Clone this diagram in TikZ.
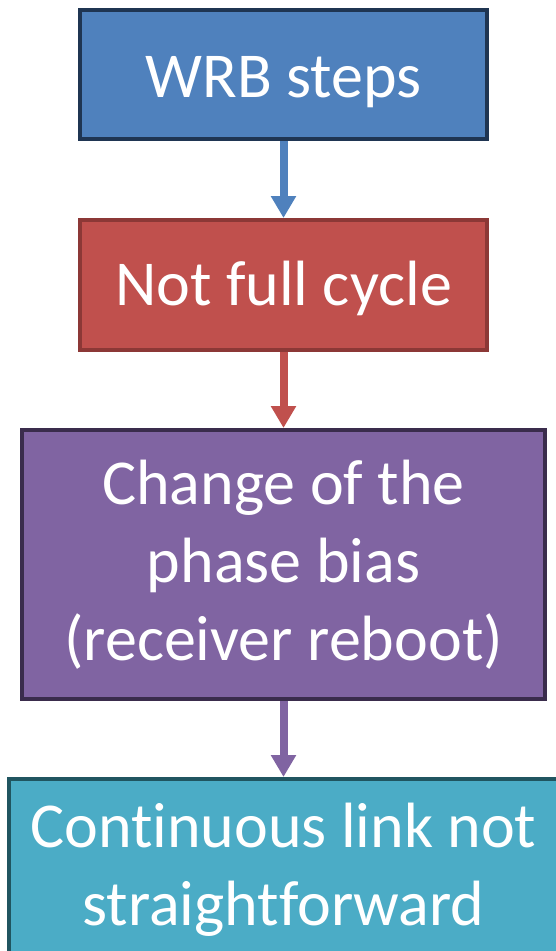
\documentclass[tikz,border=0pt]{standalone}
\usepackage{fontspec}
\setmainfont{Carlito}[Ligatures={NoCommon}]
\usetikzlibrary{arrows.meta,positioning}

\definecolor{stepblue}{HTML}{4F81BD}
\definecolor{stepblueline}{HTML}{1F3552}
\definecolor{cyclered}{HTML}{C0504D}
\definecolor{cycleredline}{HTML}{8C3836}
\definecolor{biaspurple}{HTML}{8064A2}
\definecolor{biaspurpleline}{HTML}{3A2C4C}
\definecolor{linkteal}{HTML}{4BACC6}
\definecolor{linktealline}{HTML}{205560}

\begin{document}
\begin{tikzpicture}[x=1pt,y=1pt,>={Triangle[width=24pt,length=22pt]}]
        \tikzset{block/.style= {draw, rectangle, align=center, line width=4pt, inner sep=0pt,
                text=white, font=\fontsize{64}{78}\selectfont},
                link/.style= {->, line width=8pt},
        }
        \useasboundingbox (0,0) rectangle (556,-951);

        \node [block, fill=stepblue, draw=stepblueline, minimum width=407pt, minimum height=129pt,
               text height=45pt, text depth=0pt] (steps) at (283.5,-74.5) {WRB steps};
        \node [block, fill=cyclered, draw=cycleredline, minimum width=407pt, minimum height=130pt,
               text height=40pt, text depth=0pt, below = 77pt of steps] (cycle) {Not full cycle};
        \node [block, fill=biaspurple, draw=biaspurpleline, minimum width=523pt, minimum height=269pt, below = 76pt of cycle] (bias) {Change of the\\phase bias\\(receiver reboot)};
        \node [block, fill=linkteal, draw=linktealline, minimum width=549pt, minimum height=181pt, below = 76pt of bias] (cont) {Continuous link not\\straightforward};

        \path[link]
            (steps) edge[stepblue] (cycle)
            (cycle) edge[cyclered] (bias)
            (bias) edge[biaspurple] (cont)
                    ;
    \end{tikzpicture}
\end{document}
